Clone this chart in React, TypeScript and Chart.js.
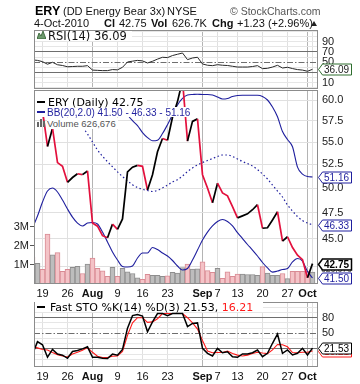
import React, { useEffect, useRef } from "react";
import { Chart, registerables } from "chart.js";

Chart.register(...registerables);

const SANS = "'Liberation Sans', Arial, sans-serif";
const DEJA = "'DejaVu Sans', Verdana, sans-serif";
const NAVY = "#1f1f9e";
const RED = "#e3103d";

Chart.defaults.font.family = SANS;
Chart.defaults.color = "#222";

// ---------- data ----------
const dates = [
  "Jul 15", "Jul 16", "Jul 19", "Jul 20", "Jul 21", "Jul 22", "Jul 23", "Jul 26", "Jul 27", "Jul 28", "Jul 29", "Jul 30",
  "Aug 2", "Aug 3", "Aug 4", "Aug 5", "Aug 6", "Aug 9", "Aug 10", "Aug 11", "Aug 12", "Aug 13", "Aug 16", "Aug 17",
  "Aug 18", "Aug 19", "Aug 20", "Aug 23", "Aug 24", "Aug 25", "Aug 26", "Aug 27", "Aug 30", "Aug 31",
  "Sep 1", "Sep 2", "Sep 3", "Sep 7", "Sep 8", "Sep 9", "Sep 10", "Sep 13", "Sep 14", "Sep 15", "Sep 16", "Sep 17",
  "Sep 20", "Sep 21", "Sep 22", "Sep 23", "Sep 24", "Sep 27", "Sep 28", "Sep 29", "Sep 30", "Oct 1", "Oct 4",
];

const closes = [
  59.3, 59.8, 58.7, 54.5, 56.6, 52.7, 52.3, 50.6, 51.1, 51.5, 51.4, 51.8,
  46.5, 46.2, 45.3, 45.1, 46.4, 45.9, 46.9, 51.7, 52.2, 52.4, 52.3, 49.8,
  51.4, 53.9, 55.4, 55.2, 57.9, 59.8, 62.5, 55.1, 57.4, 57.7,
  51.4, 50.0, 48.5, 50.5, 49.5, 49.2, 48.1, 47.0, 47.2, 47.4, 47.8, 48.3,
  46.0, 46.05, 46.8, 47.6, 44.8, 45.2, 44.2, 43.5, 43.1, 41.52, 42.75,
];

const volumes = [
  1420000, 1090000, 770000, 2630000, 1540000, 1650000, 670000, 770000, 870000, 930000, 550000, 1050000,
  1360000, 820000, 690000, 400000, 870000, 400000, 820000, 640000, 550000, 330000, 240000, 510000,
  460000, 460000, 400000, 430000, 620000, 570000, 860000, 1050000, 780000, 800000,
  1170000, 700000, 620000, 820000, 300000, 640000, 400000, 520000, 520000, 500000, 500000, 460000,
  910000, 580000, 460000, 460000, 550000, 280000, 670000, 670000, 670000, 660000, 626676,
];

const bbUpper = [
  70.5, 71.0, 71.2, 71.0, 70.6, 70.0, 69.3, 68.4, 67.3, 66.2, 65.0, 63.5,
  61.6, 60.7, 60.62, 60.5, 60.1, 59.75, 59.14, 58.19, 57.48, 56.9, 56.09, 55.51,
  55.14, 55.21, 55.97, 57.01, 58.19, 59.38, 60.19, 60.63, 60.69, 60.72,
  60.69, 60.69, 60.63, 60.37, 60.12, 60.19, 60.44, 60.56, 60.59, 60.59, 60.59, 60.59,
  60.44, 60.0, 59.14, 57.95, 56.2, 55.29, 54.46, 52.21, 51.46, 51.2, 51.16,
];

const bbMiddle = [
  62.0, 61.7, 61.4, 61.0, 60.6, 60.2, 59.8, 59.3, 58.5, 57.57, 56.74, 55.92,
  55.0, 54.1, 53.4, 52.8, 52.25, 51.7, 51.2, 50.75, 50.35, 50.05, 49.87, 49.74,
  49.64, 49.76, 50.0, 50.31, 50.63, 50.87, 51.26, 51.74, 52.12, 52.44,
  52.71, 52.93, 53.15, 53.37, 53.54, 53.54, 53.37, 53.1, 52.82, 52.6, 52.33, 51.95,
  51.47, 50.94, 50.31, 49.69, 49.08, 48.27, 47.67, 47.13, 46.74, 46.5, 46.33,
];

const bbLower = [
  46.02, 47.18, 48.57, 49.69, 50.0, 49.59, 48.77, 47.87, 47.08, 46.5, 46.22, 46.5,
  46.55, 46.41, 45.64, 44.71, 43.79, 43.07, 42.5, 42.45, 42.54, 43.25, 43.7, 43.7,
  44.2, 44.02, 43.7, 43.43, 43.03, 42.54, 42.19, 42.32, 43.07, 43.97,
  44.89, 45.64, 46.22, 46.65, 46.84, 46.65, 46.22, 45.59, 45.03, 44.48, 43.97, 43.43,
  42.85, 42.37, 42.01, 42.1, 42.23, 42.32, 42.9, 43.21, 42.98, 42.06, 41.5,
];

const rsi = [
  54.5, 53.5, 51, 46, 49.8, 45, 43.5, 41, 41.5, 42, 42, 43.2,
  34.5, 34, 33.5, 33.5, 35.5, 35, 40, 50.4, 52, 53.5, 52.5, 48.4,
  51.8, 56, 59.6, 59, 63, 65.5, 68, 55, 58.2, 59.6,
  46.5, 44, 43.2, 45.1, 44, 43.5, 42, 40.5, 40.5, 40.5, 41.5, 43.2,
  37.3, 38, 40.5, 43.9, 38.6, 40, 37.5, 35.5, 34.5, 32.2, 36.09,
];

const stoK = [
  10, 34, 28, 4, 19, 10, 8, 2, 15, 17, 20, 24,
  4, 3.8, 2, 1.5, 10, 8, 19, 60, 84, 86, 83, 53,
  72, 88, 88, 84, 88, 88, 88, 63, 69, 70,
  21, 11.5, 6.3, 21, 12.7, 14.6, 5, 3.8, 10.2, 10.2, 12.7, 17.9,
  5, 11.5, 30.8, 48.7, 11.5, 17.9, 8.3, 11.5, 21.2, 8.3, 21.53,
];

const stoD = [
  24, 22, 19, 18, 13, 9, 6.5, 4.5, 10, 13.5, 17.5, 22.5,
  13.5, 6, 3.5, 3.5, 6, 6.5, 15, 46, 70, 80, 80, 71,
  72, 78, 88, 88, 88, 88, 88, 80, 70, 58,
  36, 16, 12.5, 13, 13, 16, 11, 8, 6.5, 8, 11, 13.5,
  12, 11, 18, 28.5, 28, 24, 13, 12.5, 13.5, 13.5, 16.21,
];

const xTickDays = ["Jul 19", "Jul 26", "Aug 2", "Aug 9", "Aug 16", "Aug 23", "Sep 1", "Sep 7", "Sep 13", "Sep 20", "Sep 27", "Oct 1", "Oct 4"];
const xTickLabels = ["19", "26", "Aug", "9", "16", "23", "Sep", "7", "13", "20", "27", "Oct", ""];
const monthStartDays = ["Aug 2", "Sep 1", "Oct 1"];
const priceTicks = [42.5, 45, 47.5, 50, 52.5, 55, 57.5, 60];
const volumeTicks = [1000000, 2000000, 3000000];
const volumeTickLabels = ["1M", "2M", "3M"];
const rsiGrid = [0, 10, 20, 30, 40, 50, 60, 70, 80, 90, 100, 110];
const rsiLabels = [10, 30, 50, 70, 90];
const stoGrid = [0, 10, 20, 30, 40, 50, 60, 70, 80, 90, 100];
const stoLabels = [20, 50, 80];

// ---------- helpers ----------
const N = dates.length;
const last = (a: number[]) => a[a.length - 1];
const X_MIN = -0.7;
const X_MAX = 56.1;
const dayX = (d: string) => dates.indexOf(d) - 1;
const toPts = (arr: number[]) => arr.map((y, k) => ({ x: k - 1, y }));
const upFlags = closes.map((c, k) => k > 0 && c >= closes[k - 1]);

function xScale(showLabels: boolean): any {
  const tickXs = xTickDays.map(dayX);
  const monthXs = monthStartDays.map(dayX);
  return {
    type: "linear",
    min: X_MIN,
    max: X_MAX,
    offset: false,
    afterBuildTicks: (s: any) => {
      s.ticks = tickXs.map((value) => ({ value }));
    },
    afterFit: (s: any) => {
      s.height = showLabels ? 16 : 0;
    },
    ticks: {
      display: showLabels,
      autoSkip: false,
      maxRotation: 0,
      minRotation: 0,
      padding: 3,
      color: "#111",
      font: (c: any) => ({
        family: SANS,
        size: 11,
        weight: c.tick && monthXs.includes(c.tick.value) ? "bold" : "normal",
      }),
      callback: (v: any) => {
        const k = tickXs.indexOf(v);
        return k >= 0 ? xTickLabels[k] : "";
      },
    },
    grid: {
      offset: false,
      drawTicks: false,
      lineWidth: 1,
      color: (c: any) => (c.tick && monthXs.includes(c.tick.value) ? "#b4b4b4" : "#e0e0e0"),
    },
    border: { display: false },
  };
}

function frame(ctx: CanvasRenderingContext2D, a: any) {
  ctx.save();
  ctx.strokeStyle = "#8c8c8c";
  ctx.lineWidth = 1;
  ctx.strokeRect(Math.round(a.left) + 0.5, Math.round(a.top) + 0.5, Math.round(a.right - a.left) - 1, Math.round(a.bottom - a.top) - 1);
  ctx.restore();
}

function hLine(ctx: CanvasRenderingContext2D, a: any, yv: number, color: string, dash: number[]) {
  const y = Math.round(yv) + 0.5;
  ctx.save();
  ctx.strokeStyle = color;
  ctx.lineWidth = 1;
  ctx.setLineDash(dash);
  ctx.beginPath();
  ctx.moveTo(a.left, y);
  ctx.lineTo(a.right, y);
  ctx.stroke();
  ctx.restore();
}

function tag(ctx: CanvasRenderingContext2D, a: any, yv: number, text: string, border: string, color: string, bold = false, lw = 1) {
  const y = Math.round(yv) + 0.5;
  const tip = a.right + 0.5;
  const l = tip + 4;
  const r = 351.5;
  const h = 5.5;
  ctx.save();
  ctx.beginPath();
  ctx.moveTo(tip, y);
  ctx.lineTo(l, y - h);
  ctx.lineTo(r, y - h);
  ctx.lineTo(r, y + h);
  ctx.lineTo(l, y + h);
  ctx.closePath();
  ctx.fillStyle = "#fff";
  ctx.fill();
  ctx.lineWidth = lw;
  ctx.strokeStyle = border;
  ctx.stroke();
  ctx.fillStyle = color;
  ctx.font = `${bold ? "bold " : ""}10px ${SANS}`;
  ctx.textAlign = "left";
  ctx.textBaseline = "middle";
  ctx.fillText(text, l + 1.5, y + 0.5);
  ctx.restore();
}

const baseOptions = (padding: any) => ({
  responsive: false,
  animation: false as const,
  devicePixelRatio: 1,
  events: [] as any[],
  layout: { padding },
  plugins: { legend: { display: false }, tooltip: { enabled: false } },
});

function makeRsi(canvas: HTMLCanvasElement) {
  return new Chart(canvas, {
    type: "line",
    data: {
      datasets: [
        { data: toPts(rsi), borderColor: "#262626", borderWidth: 1, pointRadius: 0, tension: 0 } as any,
      ],
    },
    options: {
      ...baseOptions({ left: 34, right: 0, top: 30, bottom: 295 }),
      scales: {
        x: xScale(false),
        y: {
          type: "linear",
          position: "right",
          min: -2.5,
          max: 113,
          afterBuildTicks: (s: any) => {
            s.ticks = rsiGrid.map((value) => ({ value }));
          },
          afterFit: (s: any) => {
            s.width = 42;
          },
          ticks: {
            autoSkip: false,
            padding: 4,
            color: "#222",
            font: { family: SANS, size: 11 },
            callback: (v: any) => (rsiLabels.includes(v) ? String(v) : ""),
          },
          grid: {
            drawTicks: false,
            color: (c: any) => {
              const v = c.tick && c.tick.value;
              if (v === 30 || v === 70) return "#6e6e6e";
              if (v === 50) return "rgba(0,0,0,0)";
              return "#e6e6e6";
            },
          },
          border: { display: false },
        },
      },
    } as any,
    plugins: [
      {
        id: "rsiDeco",
        beforeDatasetsDraw(chart: any) {
          hLine(chart.ctx, chart.chartArea, chart.scales.y.getPixelForValue(50), "#6e6e6e", [6, 2, 1.5, 2]);
        },
        afterDraw(chart: any) {
          const { ctx, chartArea: a, scales } = chart;
          frame(ctx, a);
          tag(ctx, a, scales.y.getPixelForValue(last(rsi)), last(rsi).toFixed(2), "#2e6e2e", "#222");
        },
      },
    ],
  });
}

function makeMain(canvas: HTMLCanvasElement) {
  return new Chart(canvas, {
    type: "line",
    data: {
      datasets: [
        {
          type: "bar",
          data: toPts(volumes),
          yAxisID: "yv",
          backgroundColor: upFlags.map((u) => (u ? "#bdbdbd" : "#f4c3c7")),
          borderColor: upFlags.map((u) => (u ? "#8e8e8e" : "#d98b94")),
          borderWidth: 1,
          borderSkipped: "bottom",
          barThickness: 5,
          grouped: false,
          order: 10,
        },
        {
          data: toPts(bbUpper),
          yAxisID: "y",
          borderColor: NAVY,
          borderWidth: 1.1,
          pointRadius: 0,
          cubicInterpolationMode: "monotone",
          order: 5,
        },
        {
          data: toPts(bbMiddle),
          yAxisID: "y",
          borderColor: NAVY,
          borderWidth: 1.2,
          borderDash: [1.5, 2.5],
          pointRadius: 0,
          cubicInterpolationMode: "monotone",
          order: 5,
        },
        {
          data: toPts(bbLower),
          yAxisID: "y",
          borderColor: NAVY,
          borderWidth: 1.1,
          pointRadius: 0,
          cubicInterpolationMode: "monotone",
          order: 5,
        },
        {
          data: toPts(closes),
          yAxisID: "y",
          borderColor: "#000",
          borderWidth: 1.7,
          pointRadius: 0,
          tension: 0,
          segment: {
            borderColor: (c: any) => (c.p1.parsed.y < c.p0.parsed.y ? RED : "#000"),
          },
          order: 1,
        },
      ] as any,
    },
    options: {
      ...baseOptions({ left: 0, right: 0, top: 90, bottom: 84 }),
      scales: {
        x: xScale(true),
        y: {
          type: "logarithmic",
          position: "right",
          min: 40.985,
          max: 61.256,
          afterBuildTicks: (s: any) => {
            s.ticks = priceTicks.map((value) => ({ value }));
          },
          afterFit: (s: any) => {
            s.width = 42;
          },
          ticks: {
            autoSkip: false,
            padding: 4,
            color: "#222",
            font: { family: SANS, size: 11 },
            callback: (v: any) => (v === 42.5 ? "" : Number(v).toFixed(1)),
          },
          grid: { drawTicks: false, color: "#e0e0e0" },
          border: { display: false },
        },
        yv: {
          type: "linear",
          position: "left",
          min: 0,
          max: 10200000,
          afterBuildTicks: (s: any) => {
            s.ticks = volumeTicks.map((value) => ({ value }));
          },
          afterFit: (s: any) => {
            s.width = 34;
          },
          ticks: {
            autoSkip: false,
            padding: 1,
            color: "#222",
            font: { family: SANS, size: 11 },
            callback: (v: any) => {
              const k = volumeTicks.indexOf(v);
              return k >= 0 ? volumeTickLabels[k] : "";
            },
          },
          grid: { drawOnChartArea: false, drawTicks: true, tickLength: 4, color: "#555" },
          border: { display: false },
        },
      },
    } as any,
    plugins: [
      {
        id: "mainDeco",
        afterDraw(chart: any) {
          const { ctx, chartArea: a, scales } = chart;
          frame(ctx, a);
          const y = scales.y;
          ctx.save();
          ctx.fillStyle = "#555";
          ctx.font = `8.5px ${SANS}`;
          ctx.textBaseline = "middle";
          ctx.fillText(last(volumes).toLocaleString("en-US"), 321, 270);
          ctx.restore();
          tag(ctx, a, y.getPixelForValue(last(bbUpper)), last(bbUpper).toFixed(2), NAVY, NAVY);
          tag(ctx, a, y.getPixelForValue(last(bbMiddle)), last(bbMiddle).toFixed(2), NAVY, NAVY);
          tag(ctx, a, y.getPixelForValue(last(closes)), last(closes).toFixed(2), "#000", "#000", true, 1.5);
          tag(ctx, a, y.getPixelForValue(last(bbLower)), last(bbLower).toFixed(2), NAVY, NAVY);
        },
      },
    ],
  });
}

function makeSto(canvas: HTMLCanvasElement) {
  return new Chart(canvas, {
    type: "line",
    data: {
      datasets: [
        { data: toPts(stoD), borderColor: "#ff1a1a", borderWidth: 1.1, pointRadius: 0, tension: 0, order: 2 },
        { data: toPts(stoK), borderColor: "#000", borderWidth: 1.5, pointRadius: 0, tension: 0, order: 1 },
      ] as any,
    },
    options: {
      ...baseOptions({ left: 34, right: 0, top: 302, bottom: 1 }),
      scales: {
        x: xScale(true),
        y: {
          type: "linear",
          position: "right",
          min: -14.8,
          max: 110.2,
          afterBuildTicks: (s: any) => {
            s.ticks = stoGrid.map((value) => ({ value }));
          },
          afterFit: (s: any) => {
            s.width = 42;
          },
          ticks: {
            autoSkip: false,
            padding: 4,
            color: "#222",
            font: { family: SANS, size: 11 },
            callback: (v: any) => (stoLabels.includes(v) ? String(v) : ""),
          },
          grid: {
            drawTicks: false,
            color: (c: any) => {
              const v = c.tick && c.tick.value;
              if (v === 20 || v === 80) return "#6e6e6e";
              if (v === 50) return "rgba(0,0,0,0)";
              return "#e6e6e6";
            },
          },
          border: { display: false },
        },
      },
    } as any,
    plugins: [
      {
        id: "stoDeco",
        beforeDatasetsDraw(chart: any) {
          hLine(chart.ctx, chart.chartArea, chart.scales.y.getPixelForValue(50), "#6e6e6e", [6, 2, 1.5, 2]);
        },
        afterDraw(chart: any) {
          const { ctx, chartArea: a, scales } = chart;
          frame(ctx, a);
          tag(ctx, a, scales.y.getPixelForValue(last(stoD)), last(stoD).toFixed(2), "#ff1a1a", "#ff1a1a");
          tag(ctx, a, scales.y.getPixelForValue(last(stoK)), last(stoK).toFixed(2), "#000", "#000");
        },
      },
    ],
  });
}

// ---------- text overlay ----------
type TP = {
  x: number;
  y: number;
  size: number;
  lh?: number;
  family?: string;
  bold?: boolean;
  color?: string;
  bg?: string;
  children: React.ReactNode;
};
const Txt = ({ x, y, size, lh = 11, family = SANS, bold, color = "#111", bg, children }: TP) => (
  <div
    style={{
      position: "absolute",
      left: x,
      top: y,
      fontFamily: family,
      fontSize: size,
      lineHeight: `${lh}px`,
      height: lh,
      fontWeight: bold ? "bold" : "normal",
      color,
      background: bg,
      whiteSpace: "nowrap",
      paddingRight: bg ? 2 : 0,
    }}
  >
    {children}
  </div>
);

const Box = ({ x, y, w, h, c }: { x: number; y: number; w: number; h: number; c: string }) => (
  <div style={{ position: "absolute", left: x, top: y, width: w, height: h, background: c }} />
);

export default function App() {
  const rsiRef = useRef<HTMLCanvasElement>(null);
  const mainRef = useRef<HTMLCanvasElement>(null);
  const stoRef = useRef<HTMLCanvasElement>(null);

  useEffect(() => {
    const charts = [makeRsi(rsiRef.current!), makeMain(mainRef.current!), makeSto(stoRef.current!)];
    return () => charts.forEach((c) => c.destroy());
  }, []);

  const cl = last(closes);
  const prev = closes[N - 2];
  const chg = cl - prev;
  const pct = (chg / prev) * 100;
  const volK = (last(volumes) / 1000).toFixed(1) + "K";

  const canvasStyle: React.CSSProperties = { position: "absolute", left: 0, top: 0, width: 360, height: 384 };

  return (
    <div style={{ position: "fixed", left: 0, top: 0, width: 360, height: 384, background: "#fff", overflow: "hidden" }}>
      <canvas ref={rsiRef} width={360} height={384} style={canvasStyle} />
      <canvas ref={mainRef} width={360} height={384} style={canvasStyle} />
      <canvas ref={stoRef} width={360} height={384} style={canvasStyle} />

      {/* header */}
      <Txt x={35} y={3.7} size={12.5} lh={14} bold color="#000">ERY</Txt>
      <Txt x={63} y={4.2} size={11} lh={14} color="#111">(DD Energy Bear 3x)</Txt>
      <Txt x={167} y={4.2} size={11} lh={14} color="#111">NYSE</Txt>
      <Txt x={230} y={4.4} size={10.5} lh={14} color="#555">© StockCharts.com</Txt>
      <Txt x={34} y={15.7} size={11} lh={14}>4-Oct-2010</Txt>
      <Txt x={104} y={15.7} size={11} lh={14} bold>Cl</Txt>
      <Txt x={119} y={15.7} size={11} lh={14}>{cl.toFixed(2)}</Txt>
      <Txt x={151} y={15.7} size={11} lh={14} bold>Vol</Txt>
      <Txt x={172} y={15.7} size={11} lh={14}>{volK}</Txt>
      <Txt x={212} y={15.7} size={11} lh={14} bold>Chg</Txt>
      <Txt x={237} y={15.7} size={11} lh={14}>{`+${chg.toFixed(2)} (+${pct.toFixed(2)}%)`}</Txt>
      <div
        style={{
          position: "absolute",
          left: 311,
          top: 21,
          width: 0,
          height: 0,
          borderLeft: "3.5px solid transparent",
          borderRight: "3.5px solid transparent",
          borderBottom: "5px solid #222",
        }}
      />

      {/* RSI legend */}
      <Box x={35} y={31} w={97} h={10} c="#fff" />
      <svg style={{ position: "absolute", left: 37, top: 31 }} width={9} height={8}>
        <polygon points="0,8 2,2 4,5 6,0 9,8" fill="#6d9a6d" stroke="#2d5a2d" strokeWidth={0.8} />
      </svg>
      <Txt x={48} y={31} size={11.5} family={DEJA}>{`RSI(14) ${last(rsi).toFixed(2)}`}</Txt>

      {/* main legend */}
      <Box x={35} y={91} w={112} h={16} c="#fff" />
      <Box x={35} y={107} w={152} h={10} c="#fff" />
      <Box x={37} y={101} w={8} h={2} c="#000" />
      <Txt x={48} y={96.7} size={11} family={DEJA} color="#000">{`ERY (Daily) ${cl.toFixed(2)}`}</Txt>
      <Box x={37} y={111} w={8} h={2} c={NAVY} />
      <Txt x={47} y={107} size={10} color={NAVY}>
        {`BB(20,2.0) ${last(bbLower).toFixed(2)} - ${last(bbMiddle).toFixed(2)} - ${last(bbUpper).toFixed(2)}`}
      </Txt>
      <svg style={{ position: "absolute", left: 37, top: 119 }} width={9} height={8}>
        <rect x={0} y={3} width={2} height={5} fill="#666" />
        <rect x={3} y={0} width={2} height={8} fill="#666" />
        <rect x={6} y={2} width={2} height={6} fill="#666" />
      </svg>
      <Txt x={47} y={118} size={9.5} color="#555" bg="#fff">{`Volume ${last(volumes).toLocaleString("en-US")}`}</Txt>

      {/* STO legend */}
      <Box x={35} y={302} w={228} h={10} c="#fff" />
      <Box x={37} y={306} w={8} h={2} c="#000" />
      <Txt x={50} y={301.9} size={11} family={DEJA} color="#000">
        {`Fast STO %K(14) %D(3) ${last(stoK).toFixed(2)}, `}
        <span style={{ color: "#ff1a1a" }}>{last(stoD).toFixed(2)}</span>
      </Txt>
    </div>
  );
}
